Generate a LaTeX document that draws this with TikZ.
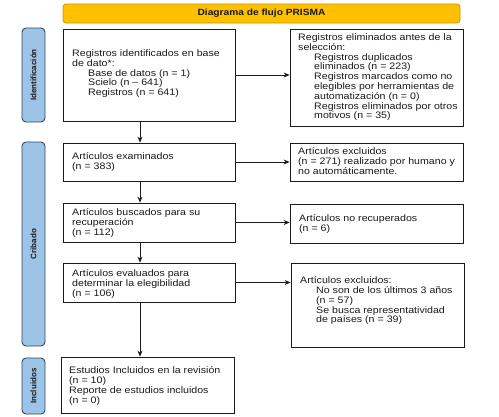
\documentclass[tikz,border=0pt]{standalone}
\usepackage{fontspec}
\setmainfont{Liberation Sans}[FakeStretch=1.13]
\newfontfamily\labfont{Liberation Sans}
\usetikzlibrary{arrows.meta}
\definecolor{gold}{HTML}{FFC000}
\definecolor{goldborder}{HTML}{C99700}
\definecolor{labblue}{HTML}{9DC3E6}
\definecolor{labborder}{HTML}{2E4A66}
\definecolor{ink}{HTML}{1A1A1A}
\begin{document}
\begin{tikzpicture}[x=1pt,y=-1pt,
  box/.style={draw=ink, line width=0.8pt, rectangle, inner sep=0pt},
  txt/.style={anchor=north west, inner sep=0pt, align=left, text=ink,
    font=\fontsize{9.4}{9.8}\selectfont},
  sidelab/.style={draw=labborder, fill=labblue, line width=0.9pt, rounded corners=4pt,
    rotate=90, inner sep=0pt, text=ink, font=\labfont\bfseries\fontsize{8}{9}\selectfont},
  arr/.style={draw=ink, line width=0.8pt, -{Stealth[length=6pt,width=5pt]}}]
\useasboundingbox (0,0) rectangle (499,416);
% title
\node[draw=goldborder, fill=gold, line width=0.8pt, rounded corners=3pt, minimum width=397pt, minimum height=19pt, inner sep=0pt,
  font=\bfseries\fontsize{9}{10}\selectfont, text=ink] (title) at (261.5,13.5) {Diagrama de flujo PRISMA};
% side labels
\node[sidelab, minimum width=94pt, minimum height=23pt] (lab1) at (33.5,75) {Identificación};
\node[sidelab, minimum width=204pt, minimum height=23pt] (lab2) at (33.5,244) {Cribado};
\node[sidelab, minimum width=56pt, minimum height=23pt] (lab3) at (33.5,386) {Incluidos};
% boxes
\node[box, minimum width=172pt, minimum height=92pt] (b1) at (149,75) {};
\node[box, minimum width=173pt, minimum height=97pt] (b2) at (376.5,77.5) {};
\node[box, minimum width=172pt, minimum height=38pt] (b3) at (149,162) {};
\node[box, minimum width=173pt, minimum height=38pt] (b4) at (376.5,162) {};
\node[box, minimum width=172pt, minimum height=39pt] (b5) at (149,222.5) {};
\node[box, minimum width=173pt, minimum height=39pt] (b6) at (376.5,223.5) {};
\node[box, minimum width=172pt, minimum height=39pt] (b7) at (149,282.5) {};
\node[box, minimum width=173pt, minimum height=84pt] (b8) at (377.5,305) {};
\node[box, minimum width=173pt, minimum height=56pt] (b9) at (147.5,385) {};
% texts
\node[txt] (t1) at (72,49.5) {Registros identificados en base\\de dato*:\\\hspace*{16pt}Base de datos (n = 1)\\\hspace*{16pt}Scielo (n – 641)\\\hspace*{16pt}Registros (n = 641)};
\node[txt] (t2) at (298,33.5) {Registros eliminados antes de la\\selección:\\\hspace*{16pt}Registros duplicados\\\hspace*{16pt}eliminados (n = 223)\\\hspace*{16pt}Registros marcados como no\\\hspace*{16pt}elegibles por herramientas de\\\hspace*{16pt}automatización (n = 0)\\\hspace*{16pt}Registros eliminados por otros\\\hspace*{16pt}motivos (n = 35)};
\node[txt] (t3) at (72,152.5) {Artículos examinados\\(n = 383)};
\node[txt] (t4) at (298,147.5) {Artículos excluidos\\(n = 271) realizado por humano y\\no automáticamente.};
\node[txt] (t5) at (72,208.5) {Artículos buscados para su\\recuperación\\(n = 112)};
\node[txt] (t6) at (299,214.5) {Artículos no recuperados\\(n = 6)};
\node[txt] (t7) at (72,269.5) {Artículos evaluados para\\determinar la elegibilidad\\(n = 106)};
\node[txt] (t8) at (300,276.5) {Artículos excluidos:\\\hspace*{16pt}No son de los últimos 3 años\\\hspace*{16pt}(n = 57)\\\hspace*{16pt}Se busca representatividad\\\hspace*{16pt}de países (n = 39)};
\node[txt] (t9) at (69,366.5) {Estudios Incluidos en la revisión\\(n = 10)\\Reporte de estudios incluidos\\(n = 0)};
% connectors
\coordinate (vx) at (140,0);
\draw[arr] (b1.east) -- (b1.east -| b2.west);
\draw[arr] (b3.east) -- (b3.east -| b4.west);
\draw[arr] (b5.east) -- (b5.east -| b6.west);
\draw[arr] (b7.east) -- (b7.east -| b8.west);
\draw[arr] (b1.south -| vx) -- (b3.north -| vx);
\draw[arr] (b3.south -| vx) -- (b5.north -| vx);
\draw[arr] (b5.south -| vx) -- (b7.north -| vx);
\draw[arr] (b7.south -| vx) -- (b9.north -| vx);
\end{tikzpicture}
\end{document}
